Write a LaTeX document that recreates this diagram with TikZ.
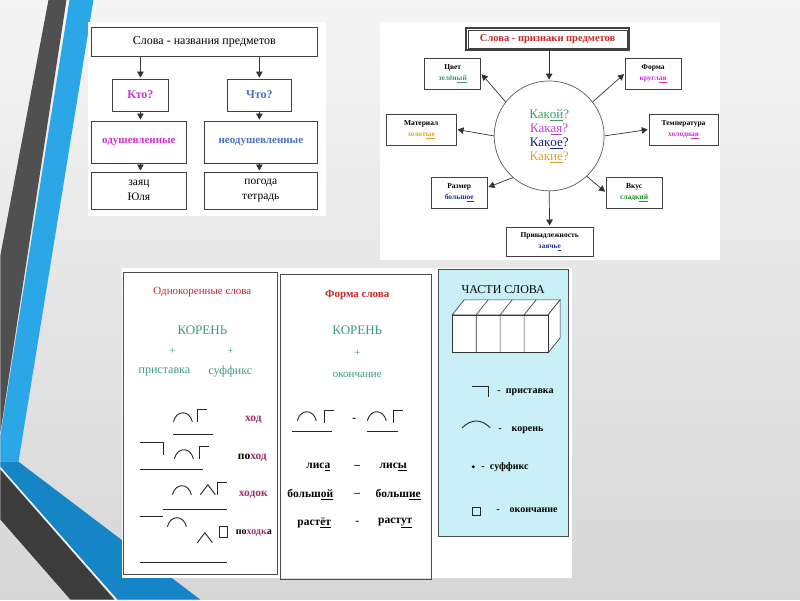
\documentclass[tikz,border=0pt]{standalone}
\usepackage{fontspec}
\setmainfont{Liberation Serif}
\usepackage{xcolor}
\usepackage{tikz}
\usetikzlibrary{positioning,arrows.meta,calc}
\definecolor{bandblue}{HTML}{2BA6E6}
\definecolor{banddeep}{HTML}{1585C5}
\definecolor{banddark}{HTML}{505050}
\definecolor{bandblack}{HTML}{3C3C3C}
\definecolor{kmag}{HTML}{CC33CC}
\definecolor{kblue}{HTML}{4A70C8}
\definecolor{tred}{HTML}{C42A2A}
\definecolor{korteal}{HTML}{3D9B7C}
\definecolor{hodmag}{HTML}{A0306E}
\definecolor{qgreen}{HTML}{3D9B6A}
\definecolor{qviolet}{HTML}{C040D0}
\definecolor{qnavy}{HTML}{1A1A8C}
\definecolor{qorange}{HTML}{E0A030}
\definecolor{vgreen}{HTML}{209020}
\definecolor{vblue}{HTML}{2030A0}
\definecolor{partcyan}{HTML}{C8F0F6}

\begin{document}
\begin{tikzpicture}[x=1pt,y=-1pt,
  >={Triangle[length=6pt,width=6.5pt]},
  box/.style={draw=black!75,line width=0.7pt,fill=white,inner sep=1pt,align=center},
  sbox/.style={box,minimum width=56pt,minimum height=31pt,font=\fontsize{7.5}{11}\selectfont\bfseries},
  arr/.style={->,line width=0.7pt,draw=black!80,shorten >=1pt},
  txt/.style={inner sep=0pt,font=\fontsize{11.5}{13}\selectfont},
  wtxt/.style={inner sep=0pt,font=\fontsize{11.5}{13}\selectfont\bfseries},
  ltxt/.style={inner sep=0pt,anchor=west,font=\fontsize{10}{12}\selectfont\bfseries},
  mk/.style={line width=0.9pt,draw=black!85},
  rootarc/.pic={\draw[mk] (0,0) .. controls (3,-12) and (16,-12) .. (19,0);},
  stemend/.pic={\draw[mk] (0,0) -- (0,-12) -- (10,-12);},
  prefmark/.pic={\draw[mk] (0,0) -- (23,0) -- (23,12);},
  sufmark/.pic={\draw[mk] (0,0) -- (7.5,-10) -- (15,0);},
  endbox/.pic={\draw[mk] (0,0) rectangle (8,11);}]

  % slide background and bands
  \shade[top color=black!4,bottom color=black!16] (0,0) rectangle (800,600);
  \fill[banddark] (48,0) -- (66,0) -- (0,432) -- (0,255) -- cycle;
  \fill[bandblue] (69,0) -- (93,0) -- (18,462) -- (0,462) -- (0,435) -- cycle;
  \fill[banddeep] (0,462) -- (18,462) -- (200,600) -- (117,600) -- (0,468) -- cycle;
  \fill[bandblack] (0,470) -- (114,600) -- (70,600) -- (0,520) -- cycle;
  \draw[white,line width=1pt] (0,468) -- (116,600);

  % nouns: who / what
  \fill[white] (88,22) rectangle (326,216);
  \node[box,minimum width=226pt,minimum height=29pt,font=\fontsize{12}{14}\selectfont] (nouns) at (204,41.5) {Слова - названия предметов};
  \node[box,minimum width=56pt,minimum height=32pt,font=\fontsize{12}{14}\selectfont\bfseries,text=kmag] (kto) at (140,95) {Кто?};
  \node[box,minimum width=64pt,minimum height=32pt,font=\fontsize{12}{14}\selectfont\bfseries,text=kblue] (chto) at (259,95) {Что?};
  \node[box,minimum width=95pt,minimum height=42pt,font=\fontsize{11}{13}\selectfont\bfseries,text=kmag] (odush) at (138.5,142) {одушевленные};
  \node[box,minimum width=113pt,minimum height=42pt,font=\fontsize{11}{13}\selectfont\bfseries,text=kblue] (neodush) at (260.5,142) {неодушевленные};
  \node[box,minimum width=95pt,minimum height=37pt,font=\fontsize{11.5}{15}\selectfont] (zayac) at (138.5,190.5) {заяц\\Юля};
  \node[box,minimum width=113pt,minimum height=37pt,font=\fontsize{11.5}{15}\selectfont] (pogoda) at (260.5,190.5) {погода\\тетрадь};
  \draw[arr] (nouns.south -| kto) -- (kto);
  \draw[arr] (nouns.south -| chto) -- (chto);
  \draw[arr] (kto) -- (kto |- odush.north);
  \draw[arr] (chto) -- (chto |- neodush.north);
  \draw[arr] (kto |- odush.south) -- (kto |- zayac.north);
  \draw[arr] (chto |- neodush.south) -- (chto |- pogoda.north);

  % adjectives: signs of objects
  \fill[white] (380,22) rectangle (720,260);
  \node[box,minimum width=163pt,minimum height=22pt,line width=1.8pt,font=\fontsize{10.5}{12}\selectfont\bfseries,text=tred] (signs) at (547.5,39) {Слова - признаки предметов};
  \draw[black!75,line width=0.5pt] ([shift={(3,3)}]signs.north west) rectangle ([shift={(-3,-3)}]signs.south east);
  \node[circle,draw=black!65,line width=0.7pt,minimum size=110pt,inner sep=0pt,align=center,font=\fontsize{13}{14}\selectfont] (kakoy) at (549,136)
        {\textcolor{qgreen}{Как\underline{ой}?}\\\textcolor{qviolet}{Как\underline{ая}?}\\\textcolor{qnavy}{Как\underline{ое}?}\\\textcolor{qorange}{Как\underline{ие}?}};
  \node[sbox] (cvet) at (452.5,73.5) {Цвет\\\textcolor{qgreen}{зелён\underline{ый}}};
  \node[sbox] (forma) at (653,73.5) {Форма\\\textcolor{kmag}{кругл\underline{ая}}};
  \node[sbox,minimum width=70pt] (mater) at (421,129.5) {Материал\\\textcolor{qorange}{золот\underline{ые}}};
  \node[sbox,minimum width=69pt] (temper) at (683.5,129.5) {Температура\\\textcolor{kmag}{холодн\underline{ая}}};
  \node[sbox] (razmer) at (459,192.5) {Размер\\\textcolor{vblue}{больш\underline{ое}}};
  \node[sbox] (vkus) at (634,192.5) {Вкус\\\textcolor{vgreen}{сладк\underline{ий}}};
  \node[sbox,minimum width=87pt,minimum height=30pt] (prinadl) at (549.5,242) {Принадлежность\\\textcolor{vblue}{заячь\underline{е}}};
  \draw[arr] (signs.south -| kakoy) -- (kakoy);
  \draw[arr] (kakoy.142) -- (cvet.east);
  \draw[arr] (kakoy.38) -- (forma.west);
  \draw[arr] (kakoy.180) -- (mater.east);
  \draw[arr] (kakoy.0) -- (temper.west);
  \draw[arr] (kakoy.229) -- (razmer.10);
  \draw[arr] (kakoy.313) -- (vkus.west);
  \draw[arr] (kakoy.south) -- (prinadl.north);

  % word parts
  \fill[white] (122,268) rectangle (572,578);
  \draw[black!70,line width=0.7pt] (123,273) rectangle (277,575);
  \draw[black!70,line width=0.7pt] (280,275) rectangle (431,580);
  \filldraw[fill=partcyan,draw=black!70,line width=0.7pt] (438,270) rectangle (568,537);

  % same-root words
  \node[txt,text=tred,font=\fontsize{11}{13}\selectfont] (odnokor) at (202,292) {Однокоренные слова};
  \node[txt,text=korteal,font=\fontsize{13}{15}\selectfont] (koren1) at (202,330) {КОРЕНЬ};
  \node[txt,text=korteal] (plus1) at (172,351) {+};
  \node[txt,text=korteal] (plus2) at (230,351) {+};
  \node[txt,text=korteal,font=\fontsize{12}{14}\selectfont] (prist1) at (164,372) {приставка};
  \node[txt,text=korteal,font=\fontsize{12}{14}\selectfont] (suff1) at (230,372) {суффикс};
  \pic at (173,422) {rootarc};
  \pic at (197,422) {stemend};
  \draw[mk] (173,435) -- (213,435);
  \node[wtxt,text=hodmag] (w1) at (253,420) {ход};
  \pic at (140,443) {prefmark};
  \pic at (174,459) {rootarc};
  \pic at (199,459) {stemend};
  \draw[mk] (140,470) -- (203,470);
  \node[wtxt] (w2) at (252,458) {по\textcolor{hodmag}{ход}};
  \pic at (172,495) {rootarc};
  \pic at (200,495) {sufmark};
  \pic at (217,495) {stemend};
  \draw[mk] (163,510) -- (227,510);
  \node[wtxt,text=hodmag] (w3) at (253,495) {ходок};
  \draw[mk] (140,517) -- (163,517);
  \pic at (167,527) {rootarc};
  \pic at (197,543) {sufmark};
  \pic at (219,527) {endbox};
  \draw[mk] (140,563) -- (227,563);
  \node[wtxt,font=\fontsize{10}{12}\selectfont\bfseries] (w4) at (253.5,533) {по\textcolor{hodmag}{ходк}а};

  % word forms
  \node[txt,text=tred,font=\fontsize{11}{13}\selectfont\bfseries] (formslova) at (357,295) {Форма слова};
  \node[txt,text=korteal,font=\fontsize{13}{15}\selectfont] (koren2) at (357,330) {КОРЕНЬ};
  \node[txt,text=korteal] (plus3) at (357,353) {+};
  \node[txt,text=korteal,font=\fontsize{11}{13}\selectfont] (okon) at (357,375) {окончание};
  \pic at (297,421) {rootarc};
  \pic at (324,423) {stemend};
  \draw[mk] (292,432) -- (332,432);
  \node[wtxt] (dash0) at (354,420) {-};
  \pic at (367,421) {rootarc};
  \pic at (393,423) {stemend};
  \draw[mk] (367,432) -- (398,432);
  \node[wtxt] (lisa) at (318,467) {лис\underline{а}};
  \node[wtxt] (dash1) at (357,467) {–};
  \node[wtxt] (lisy) at (393,467) {лис\underline{ы}};
  \node[wtxt] (bolshoy) at (310,495) {больш\underline{ой}};
  \node[wtxt] (dash2) at (357,495) {–};
  \node[wtxt] (bolshie) at (398,495) {больш\underline{ие}};
  \node[wtxt] (rastet) at (314,523) {раст\underline{ёт}};
  \node[wtxt] (dash3) at (357,523) {-};
  \node[wtxt] (rastut) at (395,523) {раст\underline{ут}};

  % parts of a word
  \node[txt,font=\fontsize{12}{14}\selectfont] (chasti) at (503,290) {ЧАСТИ СЛОВА};
  \filldraw[fill=white,draw=black!80,line width=0.6pt] (452,315) -- (464,300) -- (560,300) -- (548,315) -- cycle;
  \filldraw[fill=white,draw=black!80,line width=0.6pt] (548,315) -- (560,300) -- (560,338) -- (548,353) -- cycle;
  \filldraw[fill=white,draw=black!80,line width=0.6pt] (452,315) rectangle (548,353);
  \foreach \i in {1,2,3}
    \draw[black!80,line width=0.6pt] (452+24*\i,315) -- (452+24*\i,353) (452+24*\i,315) -- (464+24*\i,300);
  \draw[mk] (472,387) -- (488,387) -- (488,397);
  \node[ltxt] (lprist) at (497,392) {-\; приставка};
  \draw[mk] (462,428) .. controls (471,419) and (481,419) .. (490,428);
  \node[ltxt] (lkoren) at (498,430) {-\quad корень};
  \fill (473,467) circle (1.6);
  \node[ltxt] (lsuff) at (481,467) {-\; суффикс};
  \draw[mk] (472,508) rectangle (480,516);
  \node[ltxt] (lokon) at (496,511) {-\quad окончание};
\end{tikzpicture}
\end{document}
